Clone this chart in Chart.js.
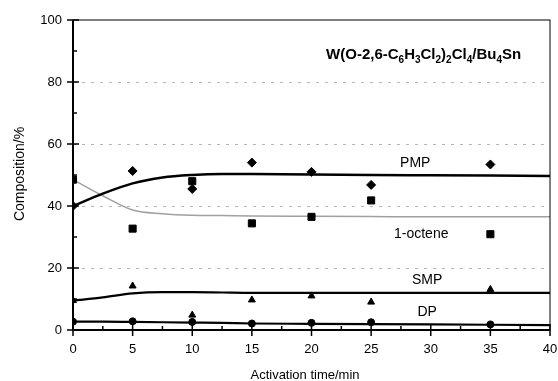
<!DOCTYPE html>
<html>
<head>
<meta charset="utf-8">
<script src="https://cdn.jsdelivr.net/npm/chart.js@4/dist/chart.umd.min.js"></script>
<style>
  html, body { margin: 0; padding: 0; background: #fff; }
  #wrap { width: 558px; height: 381px; }
</style>
</head>
<body>
<div id="wrap"><canvas id="chart"></canvas></div>
<script>
const times = [0, 5, 10, 15, 20, 25, 35];
const pmp = [40, 51.3, 45.5, 54, 51, 46.8, 53.4];
const octene = [48.5, 32.7, 48, 34.4, 36.5, 41.8, 30.9];
const smp = [9.5, 14.2, 4.8, 9.7, 11, 9, 13.1];
const dp = [2.7, 2.8, 2.6, 2.1, 2.3, 2.5, 1.8];

const fitTimes = [0, 2.5, 5, 7.5, 10, 12.5, 15, 20, 25, 30, 35, 40];
const pmpFit = [40, 44, 47.3, 49.2, 50, 50.3, 50.3, 50.2, 50, 49.9, 49.8, 49.7];
const octeneFit = [48.5, 43.3, 38.7, 37.5, 37, 36.9, 36.8, 36.7, 36.6, 36.5, 36.5, 36.5];
const smpFit = [9.5, 10.5, 11.8, 12.2, 12.2, 12.1, 12, 12, 12, 12, 12, 12];
const dpFit = [2.7, 2.7, 2.6, 2.5, 2.4, 2.3, 2.1, 2, 1.9, 1.8, 1.7, 1.6];

const seriesNames = ['PMP', '1-octene', 'SMP', 'DP'];
const yTicks = [0, 20, 40, 60, 80, 100];
const xTicks = [0, 5, 10, 15, 20, 25, 30, 35, 40];

const FONT = '"Liberation Sans", Arial, sans-serif';

const toPoints = (xs, ys) => xs.map((t, i) => ({x: t, y: ys[i]}));

function markers(label, values, style, radius) {
  return {
    label,
    data: toPoints(times, values),
    showLine: false,
    pointStyle: style,
    pointRadius: radius,
    pointBackgroundColor: '#000',
    pointBorderColor: '#000',
    pointBorderWidth: 1,
    order: 0,
  };
}

function curve(label, values, color, width) {
  return {
    label: label + ' fit',
    data: toPoints(fitTimes, values),
    showLine: true,
    borderColor: color,
    borderWidth: width,
    pointRadius: 0,
    cubicInterpolationMode: 'monotone',
    order: 1,
  };
}

// text with subscripts, e.g. W(O-2,6-C_6H_3Cl_2)_2Cl_4/Bu_4Sn
function drawFormula(ctx, text, cx, cy, size) {
  const parts = text.split(/(_\d)/).filter(Boolean);
  const big = `bold ${size}px ${FONT}`;
  const small = `bold ${Math.round(size * 0.68)}px ${FONT}`;
  let total = 0;
  parts.forEach(p => {
    ctx.font = p[0] === '_' ? small : big;
    total += ctx.measureText(p[0] === '_' ? p.slice(1) : p).width;
  });
  let xPos = cx - total / 2;
  ctx.textAlign = 'left';
  ctx.textBaseline = 'alphabetic';
  parts.forEach(p => {
    const sub = p[0] === '_';
    const s = sub ? p.slice(1) : p;
    ctx.font = sub ? small : big;
    ctx.fillText(s, xPos, cy + size * 0.35 + (sub ? size * 0.3 : 0));
    xPos += ctx.measureText(s).width;
  });
}

const decorations = {
  id: 'decorations',
  beforeDatasetsDraw(chart) {
    const {ctx, chartArea: a, scales: {y}} = chart;
    ctx.save();
    ctx.strokeStyle = '#b5b5b5';
    ctx.lineWidth = 1;
    ctx.setLineDash([3, 6]);
    yTicks.slice(1, -1).forEach(v => {
      const py = Math.round(y.getPixelForValue(v)) + 0.5;
      ctx.beginPath();
      ctx.moveTo(a.left, py);
      ctx.lineTo(a.right, py);
      ctx.stroke();
    });
    ctx.restore();
  },
  afterDraw(chart) {
    const {ctx, chartArea: a, scales: {x, y}} = chart;
    ctx.save();
    ctx.strokeStyle = '#000';
    ctx.fillStyle = '#000';

    // frame
    ctx.lineWidth = 1;
    ctx.strokeRect(a.left, a.top, a.right - a.left, a.bottom - a.top);
    ctx.lineWidth = 2;
    ctx.beginPath();
    ctx.moveTo(a.left, a.top);
    ctx.lineTo(a.left, a.bottom);
    ctx.lineTo(a.right, a.bottom);
    ctx.stroke();

    // y ticks
    ctx.lineWidth = 1.5;
    yTicks.forEach((v, i) => {
      const py = y.getPixelForValue(v);
      ctx.beginPath();
      ctx.moveTo(a.left - 6, py);
      ctx.lineTo(a.left + 6, py);
      ctx.stroke();
      if (i < yTicks.length - 1) {
        const pm = y.getPixelForValue(v + 10);
        ctx.beginPath();
        ctx.moveTo(a.left, pm);
        ctx.lineTo(a.left + 4, pm);
        ctx.stroke();
      }
    });

    // x ticks
    xTicks.forEach((v, i) => {
      const px = x.getPixelForValue(v);
      ctx.beginPath();
      ctx.moveTo(px, a.bottom - 6);
      ctx.lineTo(px, a.bottom + 6);
      ctx.stroke();
      if (i < xTicks.length - 1) {
        const pm = x.getPixelForValue(v + 2.5);
        ctx.beginPath();
        ctx.moveTo(pm, a.bottom);
        ctx.lineTo(pm, a.bottom - 4);
        ctx.stroke();
      }
    });

    // axis titles
    ctx.font = `13px ${FONT}`;
    ctx.textAlign = 'center';
    ctx.textBaseline = 'middle';
    ctx.fillText('Activation time/min', 305, 375);
    ctx.save();
    ctx.translate(20, 174);
    ctx.rotate(-Math.PI / 2);
    ctx.font = `14px ${FONT}`;
    ctx.fillText('Composition/%', 0, 0);
    ctx.restore();

    // curve labels
    ctx.font = `14px ${FONT}`;
    const labelSpots = [[28.7, 53.9], [29.2, 31], [29.7, 16.1], [29.7, 5.6]];
    seriesNames.forEach((name, i) => {
      const [lx, ly] = labelSpots[i];
      ctx.fillText(name, x.getPixelForValue(lx), y.getPixelForValue(ly));
    });

    drawFormula(ctx, 'W(O-2,6-C_6H_3Cl_2)_2Cl_4/Bu_4Sn', x.getPixelForValue(29.4), y.getPixelForValue(89.2), 15);
    ctx.restore();
  },
};

new Chart(document.getElementById('chart'), {
  type: 'scatter',
  data: {
    datasets: [
      markers(seriesNames[0], pmp, 'rectRot', 4.5),
      markers(seriesNames[1], octene, 'rect', 5),
      markers(seriesNames[2], smp, 'triangle', 4),
      markers(seriesNames[3], dp, 'circle', 3.5),
      curve(seriesNames[0], pmpFit, '#000', 2.5),
      curve(seriesNames[1], octeneFit, '#a0a0a0', 1.5),
      curve(seriesNames[2], smpFit, '#000', 2.2),
      curve(seriesNames[3], dpFit, '#000', 2.2),
    ],
  },
  options: {
    responsive: true,
    maintainAspectRatio: false,
    animation: false,
    events: [],
    layout: {padding: {top: 20, right: 0, left: 0, bottom: 0}},
    plugins: {legend: {display: false}, tooltip: {enabled: false}},
    scales: {
      x: {
        type: 'linear',
        min: 0,
        max: 40,
        grid: {display: false, drawTicks: false},
        border: {display: false},
        ticks: {stepSize: 5, padding: 12, color: '#000', font: {family: FONT, size: 13}},
        afterFit: scale => { scale.height = 51; scale.paddingRight = 8; },
      },
      y: {
        min: 0,
        max: 100,
        grid: {display: false, drawTicks: false},
        border: {display: false},
        ticks: {stepSize: 20, padding: 11, color: '#000', font: {family: FONT, size: 13}},
        afterFit: scale => { scale.width = 73; },
      },
    },
  },
  plugins: [decorations],
});
</script>
</body>
</html>
